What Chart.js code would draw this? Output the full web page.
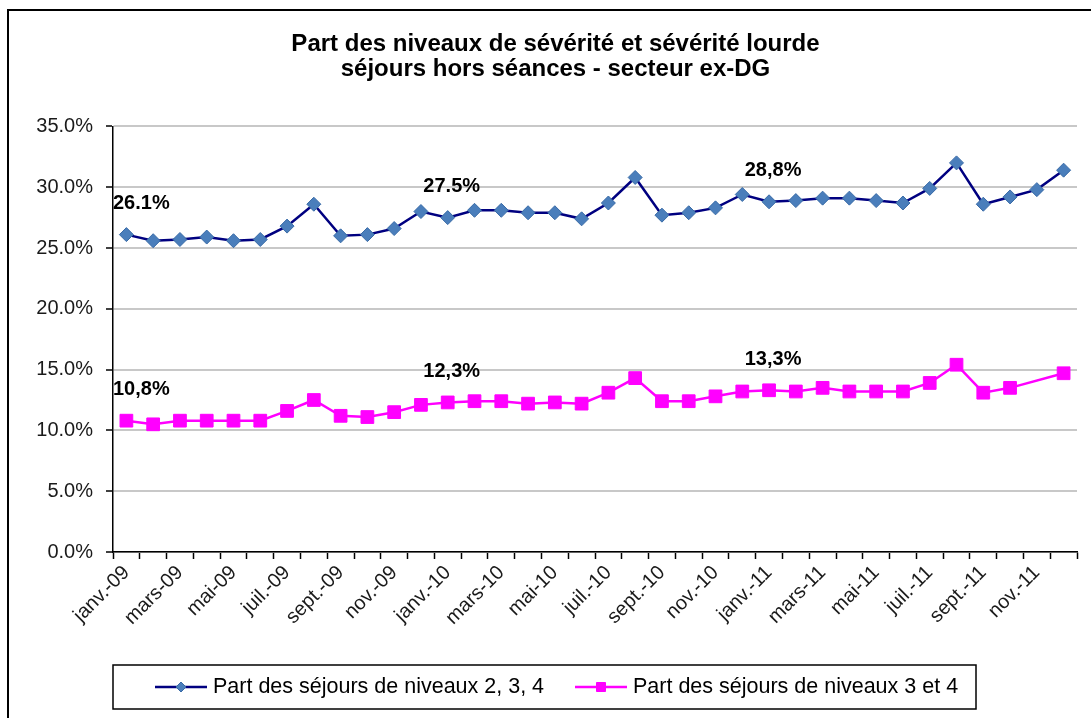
<!DOCTYPE html>
<html>
<head>
<meta charset="utf-8">
<script src="https://cdn.jsdelivr.net/npm/chart.js@4.4.1/dist/chart.umd.min.js"></script>
<style>
  html, body { margin: 0; padding: 0; background: #fff; }
  #wrap { position: relative; width: 1091px; height: 718px; }
  #frame { position: absolute; left: 7px; top: 9px; width: 1100px; height: 720px;
           border-left: 2px solid #000; border-top: 2px solid #000; pointer-events: none; }
</style>
</head>
<body>
<div id="wrap">
  <canvas id="chart" width="1091" height="718"></canvas>
  <div id="frame"></div>
</div>
<script>
// --- data ---
const months = ['janv.', 'févr.', 'mars', 'avr.', 'mai', 'juin', 'juil.', 'août', 'sept.', 'oct.', 'nov.', 'déc.'];
const years = ['09', '10', '11'];
const labels = [];
years.forEach(y => months.forEach(m => labels.push(m + '-' + y)));

const niveaux234 = [26.1, 25.6, 25.7, 25.9, 25.6, 25.7, 26.8, 28.6, 26.0, 26.1, 26.6, 28.0,
                    27.5, 28.1, 28.1, 27.9, 27.9, 27.4, 28.7, 30.8, 27.7, 27.9, 28.3, 29.4,
                    28.8, 28.9, 29.1, 29.1, 28.9, 28.7, 29.9, 32.0, 28.6, 29.2, 29.8, 31.4];
const niveaux34 = [10.8, 10.5, 10.8, 10.8, 10.8, 10.8, 11.6, 12.5, 11.2, 11.1, 11.5, 12.1,
                   12.3, 12.4, 12.4, 12.2, 12.3, 12.2, 13.1, 14.3, 12.4, 12.4, 12.8, 13.2,
                   13.3, 13.2, 13.5, 13.2, 13.2, 13.2, 13.9, 15.4, 13.1, 13.5, null, 14.7];

// annotated points (janvier of each year)
const noteIdx = [0, 12, 24];
const notes234 = ['26.1%', '27.5%', '28,8%'];
const notes34 = ['10,8%', '12,3%', '13,3%'];

const FONT = "'Liberation Sans', Arial, sans-serif";

// --- plugins ---
const pointNotes = {
  id: 'pointNotes',
  afterDatasetsDraw(chart) {
    const ctx = chart.ctx;
    ctx.save();
    ctx.font = 'bold 20px ' + FONT;
    ctx.fillStyle = '#000';
    ctx.textBaseline = 'middle';
    ctx.textAlign = 'left';
    [notes234, notes34].forEach((texts, di) => {
      const meta = chart.getDatasetMeta(di);
      noteIdx.forEach((idx, k) => {
        const pt = meta.data[idx];
        const w = ctx.measureText(texts[k]).width;
        let x = pt.x + 4 - w / 2;
        if (x < chart.chartArea.left) x = chart.chartArea.left;
        ctx.fillText(texts[k], x, pt.y - 31);
      });
    });
    ctx.restore();
  }
};

const boxedLegend = {
  id: 'boxedLegend',
  afterDraw(chart) {
    const ctx = chart.ctx;
    const left = 113, top = 665, right = 976, bottom = 709;
    ctx.save();
    ctx.strokeStyle = '#000';
    ctx.lineWidth = 1.5;
    ctx.strokeRect(left, top, right - left, bottom - top);
    const cy = (top + bottom) / 2;
    const items = [
      { ds: chart.data.datasets[0], x: 155 },
      { ds: chart.data.datasets[1], x: 575 }
    ];
    ctx.font = '21.5px ' + FONT;
    ctx.textBaseline = 'middle';
    items.forEach(it => {
      const mx = it.x + 26;
      ctx.strokeStyle = it.ds.borderColor;
      ctx.lineWidth = it.ds.borderWidth;
      ctx.beginPath();
      ctx.moveTo(it.x, cy);
      ctx.lineTo(it.x + 52, cy);
      ctx.stroke();
      ctx.fillStyle = it.ds.pointBackgroundColor;
      ctx.strokeStyle = it.ds.pointBorderColor;
      ctx.lineWidth = 1;
      ctx.beginPath();
      if (it.ds.pointStyle === 'rect') {
        const r = 4.5;
        ctx.rect(mx - r, cy - r, 2 * r, 2 * r);
      } else {
        const r = 5;
        ctx.moveTo(mx, cy - r); ctx.lineTo(mx + r, cy);
        ctx.lineTo(mx, cy + r); ctx.lineTo(mx - r, cy); ctx.closePath();
      }
      ctx.fill();
      ctx.stroke();
      ctx.fillStyle = '#000';
      ctx.fillText(it.ds.label, it.x + 58, cy);
    });
    ctx.restore();
  }
};

// --- chart ---
new Chart(document.getElementById('chart'), {
  type: 'line',
  data: {
    labels: labels,
    datasets: [
      {
        label: 'Part des séjours de niveaux 2, 3, 4',
        data: niveaux234,
        borderColor: '#000080',
        borderWidth: 2.5,
        pointStyle: 'rectRot',
        pointRadius: 7,
        pointBackgroundColor: '#4a7ebb',
        pointBorderColor: '#386aa6',
        pointBorderWidth: 1,
        tension: 0
      },
      {
        label: 'Part des séjours de niveaux 3 et 4',
        data: niveaux34,
        borderColor: '#ff00ff',
        borderWidth: 2.5,
        pointStyle: 'rect',
        pointRadius: 9,
        pointBackgroundColor: '#ff00ff',
        pointBorderColor: '#ff00ff',
        pointBorderWidth: 1,
        spanGaps: true,
        tension: 0
      }
    ]
  },
  options: {
    responsive: false,
    animation: false,
    layout: { padding: { left: 34, right: 14, top: 0, bottom: 0 } },
    plugins: {
      legend: { display: false },
      tooltip: { enabled: false },
      title: {
        display: true,
        text: ['Part des niveaux de sévérité et sévérité lourde',
               'séjours hors séances - secteur ex-DG'],
        color: '#000',
        font: { family: FONT, size: 24, weight: 'bold', lineHeight: 1.05 },
        padding: { top: 32, bottom: 44 }
      }
    },
    scales: {
      x: {
        offset: true,
        grid: { offset: true, drawOnChartArea: false, drawTicks: true, tickLength: 7,
                tickColor: '#000', tickWidth: 1.5 },
        border: { color: '#000', width: 1.5 },
        ticks: {
          autoSkip: false,
          maxRotation: 45,
          minRotation: 45,
          color: '#1a1a1a',
          font: { family: FONT, size: 20 },
          padding: 2,
          callback: (v, i) => (i % 2 === 0 ? labels[i] : '')
        },
        afterFit: s => { s.height = 166; }
      },
      y: {
        min: 0,
        max: 35,
        grid: { color: '#c8c8c8', lineWidth: 2, tickLength: 7, tickColor: '#000', tickWidth: 1.5 },
        border: { color: '#000', width: 1.5 },
        ticks: {
          stepSize: 5,
          color: '#1a1a1a',
          font: { family: FONT, size: 20 },
          padding: 13,
          callback: v => v.toFixed(1) + '%'
        },
        afterFit: s => { s.width = 79; }
      }
    }
  },
  plugins: [pointNotes, boxedLegend]
});
</script>
</body>
</html>
